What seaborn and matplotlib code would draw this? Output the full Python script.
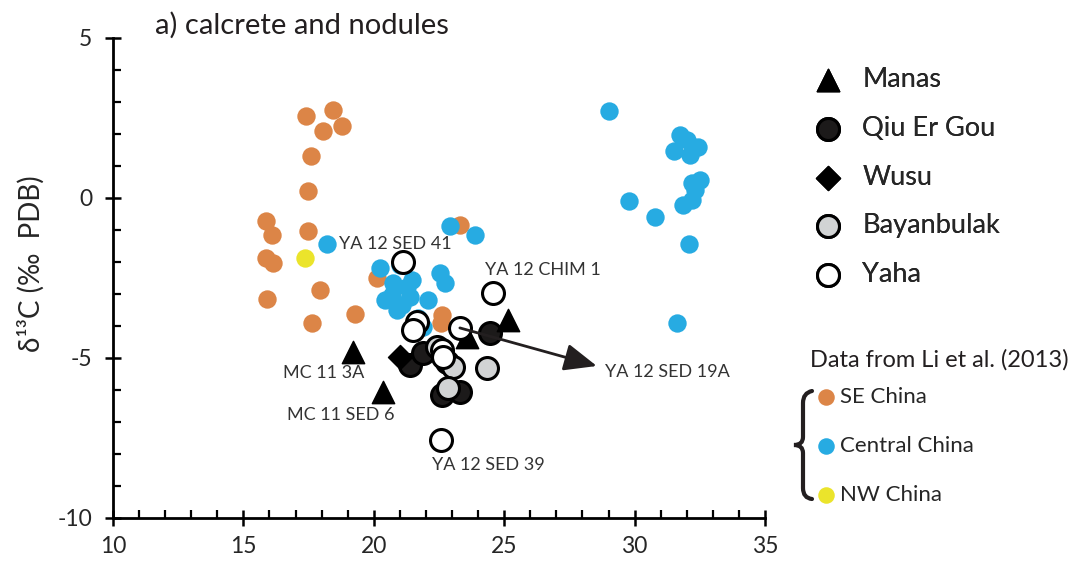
import matplotlib
matplotlib.use("Agg")
import matplotlib.pyplot as plt
import seaborn as sns
from matplotlib.ticker import MultipleLocator
from matplotlib.path import Path
from matplotlib.patches import PathPatch

# Li et al. (2013) reference data
se_china_x = [17.40, 18.44, 18.05, 18.78, 17.59, 17.48, 15.87, 16.10, 17.48, 15.87,
              16.13, 17.94, 15.90, 19.28, 17.63, 23.30, 20.12, 22.61, 22.58]
se_china_y = [2.56, 2.75, 2.09, 2.25, 1.31, 0.22, -0.72, -1.16, -1.03, -1.88,
              -2.03, -2.88, -3.16, -3.63, -3.91, -0.84, -2.50, -3.66, -3.90]

central_china_x = [22.92, 23.88, 18.21, 20.24, 21.00, 22.54, 22.73, 20.74, 21.27, 20.43,
                   20.89, 21.39, 22.08, 21.69, 21.89, 20.70, 21.08, 21.46,
                   29.02, 29.79, 30.78, 31.74, 31.51, 32.12, 32.43, 32.00, 32.51, 32.20,
                   32.30, 32.20, 31.86, 32.09, 31.63]
central_china_y = [-0.88, -1.16, -1.44, -2.19, -2.09, -2.34, -2.66, -2.66, -2.78, -3.19,
                   -3.50, -3.09, -3.19, -3.75, -4.03, -3.03, -3.34, -2.56,
                   2.72, -0.09, -0.59, 1.97, 1.47, 1.34, 1.59, 1.81, 0.56, 0.47,
                   0.25, -0.06, -0.22, -1.44, -3.91]

nw_china_x = [17.36]
nw_china_y = [-1.88]

# this study
manas_x = [19.20, 20.35, 25.15, 23.57]
manas_y = [-4.81, -6.06, -3.81, -4.34]
qiu_x = [24.46, 21.39, 22.61, 23.30, 21.89, 22.81]
qiu_y = [-4.22, -5.22, -6.16, -6.06, -4.84, -5.13]
wusu_x = [21.00]
wusu_y = [-4.97]
bayan_x = [22.42, 23.04, 22.84, 24.34]
bayan_y = [-4.66, -5.28, -5.94, -5.31]
yaha_x = [21.12, 24.57, 21.66, 21.50, 23.30, 22.61, 22.65, 22.58]
yaha_y = [-2.00, -2.97, -3.88, -4.13, -4.06, -4.75, -4.97, -7.56]

# sample labels: (text, x, y)
sample_labels = [("YA 12 SED 41", 18.67, -1.44),
                 ("YA 12 CHIM 1", 24.26, -2.25),
                 ("MC 11 3A", 16.52, -5.47),
                 ("MC 11 SED 6", 16.67, -6.78),
                 ("YA 12 SED 19A", 28.87, -5.44),
                 ("YA 12 SED 39", 22.23, -8.34)]
arrow_start = (23.30, -4.06)
arrow_end = (28.55, -5.25)

ORANGE = "#DC8547"
BLUE = "#27ABE2"
YELLOW = "#EBE42B"
GREY = "#D1D3D4"
DARK = "#1C1A1A"

W, H = 1084, 566
sns.set_style("ticks")
plt.rcParams["font.family"] = ["Lato", "DejaVu Sans"]
plt.rcParams["axes.unicode_minus"] = False

fig = plt.figure(figsize=(W / 100, H / 100), dpi=100)
ax = fig.add_axes([113 / W, 1 - 518 / H, (765 - 113) / W, (518 - 38) / H])

# Li et al. data (small coloured dots)
sns.scatterplot(x=se_china_x, y=se_china_y, color=ORANGE, s=175, linewidth=0,
                ax=ax, zorder=2, label="SE China")
sns.scatterplot(x=central_china_x, y=central_china_y, color=BLUE, s=175, linewidth=0,
                ax=ax, zorder=3, label="Central China")
sns.scatterplot(x=nw_china_x, y=nw_china_y, color=YELLOW, s=175, linewidth=0,
                ax=ax, zorder=3, label="NW China")

# this study
sns.scatterplot(x=qiu_x, y=qiu_y, marker="o", color=DARK, edgecolor="black",
                linewidth=2.2, s=250, ax=ax, zorder=4, label="Qiu Er Gou")
sns.scatterplot(x=wusu_x, y=wusu_y, marker="D", color="black", edgecolor="black",
                linewidth=1, s=150, ax=ax, zorder=4, label="Wusu")
sns.scatterplot(x=manas_x, y=manas_y, marker="^", color="black", edgecolor="black",
                linewidth=1, s=260, ax=ax, zorder=5, label="Manas")
sns.scatterplot(x=bayan_x, y=bayan_y, marker="o", color=GREY, edgecolor="black",
                linewidth=2.2, s=250, ax=ax, zorder=6, label="Bayanbulak")
sns.scatterplot(x=yaha_x, y=yaha_y, marker="o", color="white", edgecolor="black",
                linewidth=2.2, s=250, ax=ax, zorder=7, label="Yaha")

ax.annotate("", xy=arrow_end, xytext=arrow_start,
            arrowprops=dict(arrowstyle="-|>,head_length=1.0,head_width=0.42",
                            color="#231F20", lw=2, mutation_scale=20,
                            shrinkA=0, shrinkB=0), zorder=8)
for txt, tx, ty in sample_labels:
    ax.text(tx, ty, txt, fontsize=13, color="#333333", ha="left", va="center", zorder=9)

ax.set_xlim(10, 35)
ax.set_ylim(-10, 5)
ax.set_xticks(range(10, 36, 5))
ax.set_yticks(range(-10, 6, 5))
ax.xaxis.set_minor_locator(MultipleLocator(1))
ax.yaxis.set_minor_locator(MultipleLocator(1))
ax.tick_params(which="major", direction="inout", length=12, width=1.8,
               labelsize=16.5, color="black")
ax.tick_params(axis="y", which="major", pad=9)
ax.tick_params(axis="x", which="major", pad=7)
ax.tick_params(which="minor", direction="in", length=6, width=1.6, color="black")
for sp in ["left", "bottom"]:
    ax.spines[sp].set_linewidth(2)
    ax.spines[sp].set_color("black")
sns.despine(ax=ax)
ax.set_xlabel("")
ax.set_ylabel("δ¹³C (‰  PDB)", fontsize=20)
ax.yaxis.set_label_coords(-0.104, 0.53)

fig.text(155 / W, 1 - 25 / H, "a) calcrete and nodules", fontsize=21,
         ha="left", va="center", color="#231F20")

handles, labels = ax.get_legend_handles_labels()
lookup = dict(zip(labels, handles))
order1 = ["Manas", "Qiu Er Gou", "Wusu", "Bayanbulak", "Yaha"]
leg1 = ax.legend([lookup[k] for k in order1], order1, loc="upper left",
                 bbox_to_anchor=(812 / W, 1 - 67 / H), bbox_transform=fig.transFigure,
                 frameon=False, fontsize=19.5, borderpad=0, borderaxespad=0,
                 handlelength=1.2, handletextpad=0.65, labelspacing=0.88)
ax.add_artist(leg1)

order2 = ["SE China", "Central China", "NW China"]
leg2 = fig.legend([lookup[k] for k in order2], order2, loc="upper left",
                  bbox_to_anchor=(818 / W, 1 - 387 / H), bbox_transform=fig.transFigure,
                  frameon=False, fontsize=16, borderpad=0, borderaxespad=0,
                  handlelength=0.7, handletextpad=0.3, labelspacing=1.3,
                  markerscale=0.9)

fig.text(810 / W, 1 - 360 / H, "Data from Li et al. (2013)", fontsize=17,
         ha="left", va="center", color="#231F20")

# curly brace grouping the Li et al. entries
brace_px = [(812, 391), (803, 393), (803, 403), (803, 437), (803, 445), (794, 445),
            (803, 445), (803, 453), (803, 488), (803, 498), (812, 499)]
codes = [Path.MOVETO, Path.CURVE3, Path.CURVE3, Path.LINETO, Path.CURVE3, Path.CURVE3,
         Path.CURVE3, Path.CURVE3, Path.LINETO, Path.CURVE3, Path.CURVE3]
verts = [(px / W, 1 - py / H) for px, py in brace_px]
fig.patches.append(PathPatch(Path(verts, codes), transform=fig.transFigure,
                             fill=False, lw=3, color="#231F20", capstyle="round"))

fig.savefig("out.png", dpi=100)
